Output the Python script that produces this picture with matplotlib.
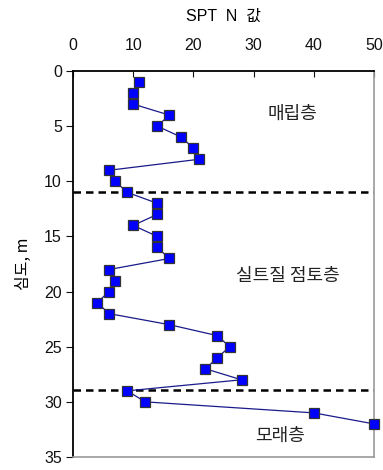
import matplotlib
matplotlib.use("Agg")
import matplotlib.pyplot as plt

plt.rcParams['font.family'] = ['Liberation Sans', 'Noto Sans CJK KR', 'DejaVu Sans']

depth = [1, 2, 3, 4, 5, 6, 7, 8, 9, 10, 11, 12, 13, 14, 15, 16, 17, 18, 19, 20,
         21, 22, 23, 24, 25, 26, 27, 28, 29, 30, 31, 32]
spt_n = [11, 10, 10, 16, 14, 18, 20, 21, 6, 7, 9, 14, 14, 10, 14, 14, 16, 6, 7, 6,
         4, 6, 16, 24, 26, 24, 22, 28, 9, 12, 40, 50]
boundaries = [11, 28.9]
layer_names = ['매립층', '실트질 점토층', '모래층']
layer_x = [36.5, 35.7, 34.4]
layer_y = [3.9, 18.6, 33.1]

fig = plt.figure(figsize=(3.83, 4.70), dpi=100)
ax = fig.add_axes([73/383, 1-457/470, (374-73)/383, (457-71)/470])

ax.plot(spt_n, depth, color='#1a1a8c', lw=0.9, marker='s', markersize=6.5,
        markerfacecolor='#0000ff', markeredgecolor='#333333', markeredgewidth=0.9,
        clip_on=False, zorder=3)
for b in boundaries:
    ax.axhline(b, color='black', lw=1.8, ls=(0, (3, 2)), zorder=2)

kfont = ['Noto Sans CJK KR', 'DejaVu Sans']
for name, x, y in zip(layer_names, layer_x, layer_y):
    ax.text(x, y, name, ha='center', va='center', fontsize=13, family=kfont,
            color='#222222', fontweight='light')

ax.set_xlim(0, 50)
ax.set_ylim(35, 0)
ax.set_xticks([0, 10, 20, 30, 40, 50])
ax.set_yticks([0, 5, 10, 15, 20, 25, 30, 35])
ax.xaxis.tick_top()
ax.xaxis.set_label_position('top')
ax.tick_params(axis='x', direction='in', length=4, labelsize=11.5, pad=13, colors='#111111')
ax.tick_params(axis='y', direction='out', length=5, labelsize=11.5, pad=3, colors='#111111')
ax.set_xlabel('SPT  N  값', fontsize=11.5, family=['Liberation Sans', 'Noto Sans CJK KR'], labelpad=12)
ax.set_ylabel('심도, m', fontsize=11.5, family=kfont, labelpad=9, fontweight='light')

ax.spines['top'].set_color('black')
ax.spines['left'].set_color('black')
ax.spines['top'].set_linewidth(1.3)
ax.spines['left'].set_linewidth(1.3)
ax.spines['right'].set_color('#999999')
ax.spines['bottom'].set_color('#999999')
ax.spines['right'].set_linewidth(1.2)
ax.spines['bottom'].set_linewidth(1.2)

fig.savefig('out.png', dpi=100)
